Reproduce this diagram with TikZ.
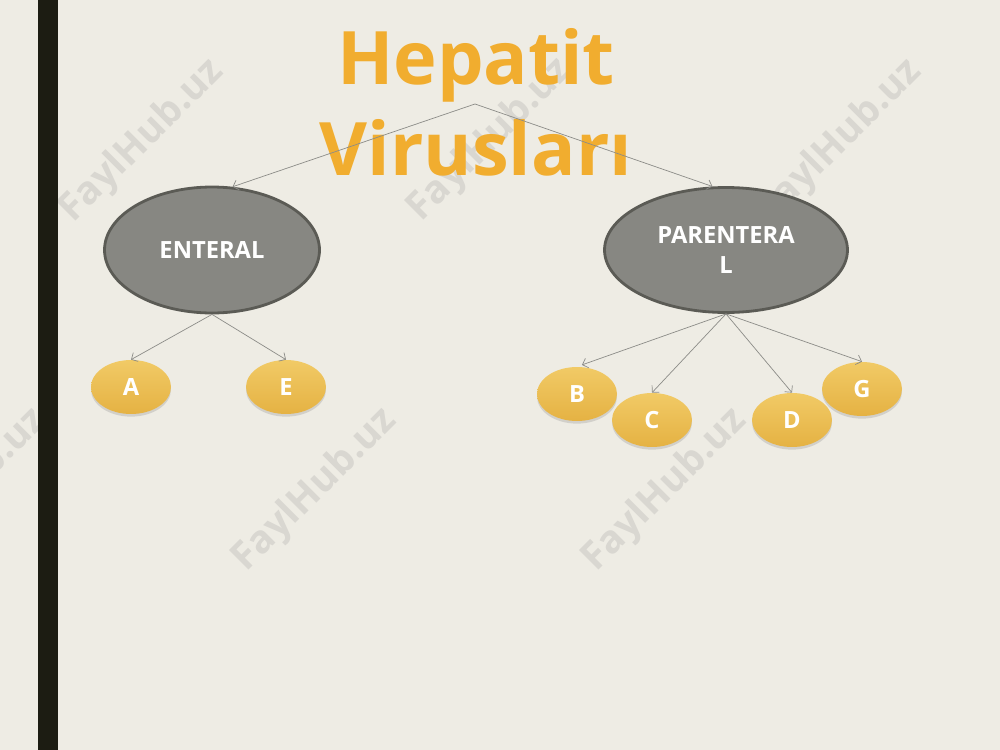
\documentclass[tikz,border=0pt]{standalone}
\usepackage{fontspec}
\setmainfont{Open Sans}
\usetikzlibrary{shapes.geometric, arrows.meta, shadows}
\definecolor{bgcream}{HTML}{EEECE4}
\definecolor{barblack}{HTML}{1C1C12}
\definecolor{titleorange}{HTML}{F1AD2F}
\definecolor{ovalgray}{HTML}{878782}
\definecolor{ovaledge}{HTML}{5B5B55}
\definecolor{goldtop}{HTML}{F1CA66}
\definecolor{goldbot}{HTML}{E5B243}
\definecolor{linegray}{HTML}{8C8C88}
\definecolor{markgray}{HTML}{D9D7D1}
\tikzstyle{arrow} = [draw=linegray, line width=0.4pt, -{Straight Barb[length=2.8pt,width=5.7pt]}]
\tikzstyle{group} = [ellipse, fill=ovalgray, draw=ovaledge, line width=1.6pt, inner sep=0pt, text=white, font=\bfseries\fontsize{13.5}{17}\selectfont, align=center]
\tikzstyle{virus} = [ellipse, minimum width=1.6cm, minimum height=1.08cm, inner sep=0pt, top color=goldtop, bottom color=goldbot, text=white, font=\bfseries\fontsize{13.5}{17}\selectfont, drop shadow={opacity=0.25, shadow xshift=0pt, shadow yshift=-1.5pt}]
\tikzstyle{watermark} = [rotate=45, text=markgray, font=\bfseries\fontsize{22}{26}\selectfont]
\begin{document}
\begin{tikzpicture}[x=0.02cm, y=-0.02cm]

\fill[bgcream] (0,0) rectangle (1000,750);
\useasboundingbox (0,0) rectangle (1000,750);

% watermark
\foreach \x/\y in {142/141, 490/140, 840/141, -35/490, 315/490, 665/490}{
	\node[watermark] at (\x,\y) {FaylHub.uz};
}
\fill[barblack] (38,0) rectangle (58,750);

\node[anchor=north, inner sep=0pt, align=center, text=titleorange, font=\bfseries\fontsize{42}{52}\selectfont] (title) at (476,28) {Hepatit\\Virusları};
\coordinate (fork) at (475,104);

\node[group, minimum width=4.3cm, minimum height=2.52cm] (ent) at (212,250) {ENTERAL};
\node[group, minimum width=4.86cm, minimum height=2.5cm] (par) at (726,250) {PARENTERA\\L};

\foreach \n/\x/\y/\t in {a/131/387/A, e/286/387/E, b/577/394/B, c/652/420/C, d/792/420/D, g/862/389/G}{
	\node[virus] (\n) at (\x,\y) {\t};
}

\draw[arrow] (fork) -- (ent.72);
\draw[arrow] (fork) -- (par.102);
\draw[arrow] (ent.south) -- (a.north);
\draw[arrow] (ent.south) -- (e.north);
\draw[arrow, shorten >=3pt] (par.south) -- (b.north);
\draw[arrow] (par.south) -- (c.north);
\draw[arrow] (par.south) -- (d.north);
\draw[arrow] (par.south) -- (g.north);
\end{tikzpicture}
\end{document}
